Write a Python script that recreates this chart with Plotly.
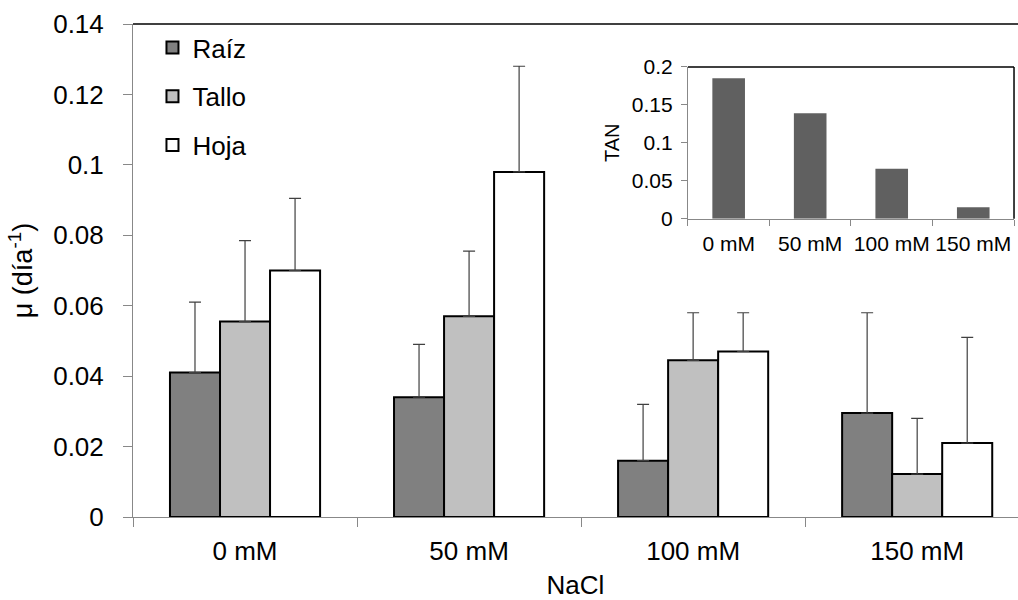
import plotly.graph_objects as go

categories = ["0 mM", "50 mM", "100 mM", "150 mM"]
raiz = [0.041, 0.034, 0.016, 0.0295]
tallo = [0.0555, 0.057, 0.0445, 0.0122]
hoja = [0.070, 0.098, 0.047, 0.021]
raiz_err = [0.020, 0.015, 0.016, 0.0285]
tallo_err = [0.023, 0.0185, 0.0135, 0.0158]
hoja_err = [0.0205, 0.030, 0.011, 0.030]
tan_vals = [0.185, 0.139, 0.066, 0.015]

FONT = "Liberation Sans, Arial, sans-serif"
fig = go.Figure()
for name, vals, errs, color in [("Raíz", raiz, raiz_err, "#808080"),
                                ("Tallo", tallo, tallo_err, "#c0c0c0"),
                                ("Hoja", hoja, hoja_err, "#ffffff")]:
    fig.add_trace(go.Bar(
        x=categories, y=vals, name=name, legendgroup=name,
        marker=dict(color=color, line=dict(color="#000000", width=2)),
        error_y=dict(type="data", array=errs, arrayminus=[0]*len(errs), symmetric=False,
                     color="#404040", thickness=1.2, width=6),
        xaxis="x", yaxis="y"))

fig.add_trace(go.Bar(
    x=categories, y=tan_vals, showlegend=False, width=0.4,
    marker=dict(color="#606060", line=dict(width=0)),
    xaxis="x2", yaxis="y2"))

fig.update_layout(
    width=1018, height=600,
    margin=dict(l=133, r=0, t=24, b=80),
    paper_bgcolor="white", plot_bgcolor="white",
    font=dict(family=FONT, size=26, color="#000000"),
    barmode="group", bargap=0.33, bargroupgap=0,
    showlegend=True,
    legend=dict(x=0.022, y=1.0, xanchor="left", yanchor="top",
                bgcolor="rgba(0,0,0,0)", font=dict(size=26), tracegroupgap=12,
                itemwidth=30),
    xaxis=dict(domain=[0, 1], type="category", range=[-0.5, 3.45],
               showline=True, linecolor="#888888", linewidth=1,
               ticks="outside", tickson="boundaries", ticklen=9, tickcolor="#888888",
               tickfont=dict(size=26), ticklabelstandoff=11,
               title=dict(text="NaCl", font=dict(size=26), standoff=16),
               showgrid=False, zeroline=False),
    yaxis=dict(domain=[0, 1], range=[0, 0.14], dtick=0.02,
               showline=True, linecolor="#888888", linewidth=1,
               ticks="outside", ticklen=9, tickcolor="#888888",
               tickfont=dict(size=26), ticklabelstandoff=14,
               title=dict(text="μ (día<sup>-1</sup>)", font=dict(size=27), standoff=12),
               showgrid=False, zeroline=False),
    xaxis2=dict(domain=[0.627, 0.9955], anchor="y2", type="category",
                range=[-0.5, 3.5], tickangle=0,
                showline=True, linecolor="#888888", linewidth=1,
                ticks="outside", tickson="boundaries", ticklen=6, tickcolor="#888888",
                tickfont=dict(size=21), ticklabelstandoff=6,
                showgrid=False, zeroline=False),
    yaxis2=dict(domain=[0.605, 0.913], anchor="x2", range=[0, 0.2], dtick=0.05,
                showline=True, linecolor="#888888", linewidth=1,
                ticks="outside", ticklen=6, tickcolor="#888888",
                tickfont=dict(size=21), ticklabelstandoff=4,
                title=dict(text="TAN", font=dict(size=20), standoff=6),
                showgrid=False, zeroline=False),
)

# frame lines (top of main plot; top and right of inset)
fig.add_shape(type="line", xref="x domain", yref="y domain", x0=0, x1=1, y0=1, y1=1,
              line=dict(color="#000000", width=1.5))
fig.add_shape(type="line", xref="x2 domain", yref="y2 domain", x0=0, x1=1, y0=1, y1=1,
              line=dict(color="#000000", width=1.5))
fig.add_shape(type="line", xref="x2 domain", yref="y2 domain", x0=1, x1=1, y0=0, y1=1,
              line=dict(color="#000000", width=1.5))

fig.write_html("out.html", config={"displayModeBar": False},
               post_script="document.body.style.margin='0';document.body.style.overflow='hidden';")
